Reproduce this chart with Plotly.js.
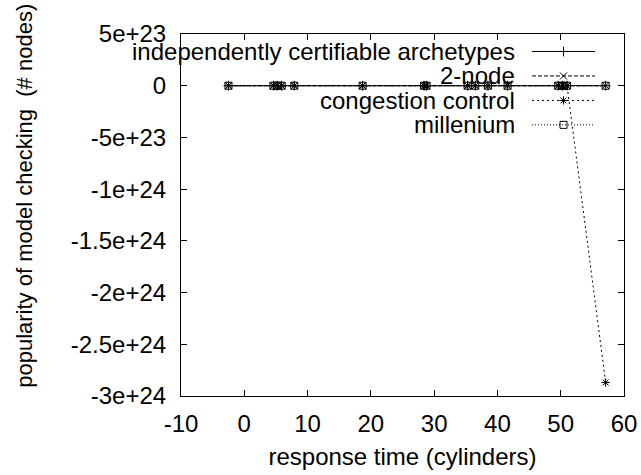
<!DOCTYPE html>
<html>
<head>
<meta charset="utf-8">
<script src="https://cdn.plot.ly/plotly-3.0.1.min.js"></script>
<style>html,body{margin:0;padding:0;background:#fff;}#chart{width:641px;height:475px;}</style>
</head>
<body>
<div id="chart"></div>
<script>
// ---- data ----
const seriesNames = ["independently certifiable archetypes", "2-node", "congestion control", "millenium"];
const xValues = [-2.5, 4.6, 5.2, 5.9, 7.9, 18.7, 28.4, 28.8, 35.3, 36.5, 38.5, 41.6, 49.6, 50.3, 51.0, 57.1];
const archetypesY = [12, 30, 33, 35, 41, 62, 70, 71, 80, 82, 85, 90, 98, 99, 100, 110];
const twoNodeY = [8, 15, 16, 17, 20, 35, 48, 49, 57, 58, 60, 64, 72, 73, 74, 81];
const congestionY = [3, 9, 10, 11, 13, 27, 39, 40, 48, 50, 52, 55, 64, 65, 66, -2.87e24];
const milleniumY = [5, 12, 13, 14, 16, 30, 42, 43, 51, 52, 55, 58, 67, 68, 69, 76];
const xTickVals = [-10, 0, 10, 20, 30, 40, 50, 60];
const xTickText = ["-10", "0", "10", "20", "30", "40", "50", "60"];
const yTickVals = [5e23, 0, -5e23, -1e24, -1.5e24, -2e24, -2.5e24, -3e24];
const yTickText = ["5e+23", "0", "-5e+23", "-1e+24", "-1.5e+24", "-2e+24", "-2.5e+24", "-3e+24"];
const xTitle = "response time (cylinders)";
const yTitle = "popularity of model checking  (# nodes)";

// ---- styles ----
const FONT = "Liberation Sans, Arial, Helvetica, sans-serif";
const FS = 24;
const styles = [
  {symbol: "cross-thin-open", dash: "solid"},
  {symbol: "x-thin-open", dash: "4px,2px"},
  {symbol: "asterisk-open", dash: "2px,3px"},
  {symbol: "square-open", dash: "1px,2px"}
];
const ys = [archetypesY, twoNodeY, congestionY, milleniumY];

const traces = ys.map((y, i) => ({
  x: xValues, y: y, type: "scatter", mode: "lines+markers",
  name: seriesNames[i], showlegend: false,
  line: {color: "#000", width: 1, dash: styles[i].dash},
  marker: {symbol: styles[i].symbol, size: 7, color: "#000", line: {color: "#000", width: 1}},
  cliponaxis: true
}));

// legend (gnuplot style: text right-aligned, sample to the right)
const L = 181, R = 624, T = 34, B = 396.5;
const px2x = p => (p - L) / (R - L);
const py2y = p => (B - p) / (B - T);
const rowsPx = [51.5, 76, 100.5, 125];
const annotations = [];
const shapes = [];
rowsPx.forEach((ry, i) => {
  annotations.push({xref: "paper", yref: "paper", x: px2x(517), y: py2y(ry), xanchor: "right", yanchor: "middle",
    text: seriesNames[i], showarrow: false, font: {family: FONT, size: FS, color: "#000"}});
  shapes.push({type: "line", xref: "paper", yref: "paper", x0: px2x(532), x1: px2x(595), y0: py2y(ry), y1: py2y(ry),
    line: {color: "#000", width: 1, dash: styles[i].dash}});
  traces.push({x: [px2x(563.5)], y: [py2y(ry)], xaxis: "x2", yaxis: "y2", type: "scatter", mode: "markers",
    showlegend: false, hoverinfo: "skip", cliponaxis: false,
    marker: {symbol: styles[i].symbol, size: 7, color: "#000", line: {color: "#000", width: 1}}});
});
// y-axis title, placed as in the reference
annotations.push({xref: "paper", yref: "paper", x: px2x(25), y: py2y(196), xanchor: "center", yanchor: "middle",
  textangle: -90, text: yTitle, showarrow: false, font: {family: FONT, size: 22, color: "#000"}});

const layout = {
  width: 641, height: 475,
  margin: {l: L, r: 641 - R, t: T, b: 475 - B, pad: 0},
  paper_bgcolor: "#fff", plot_bgcolor: "#fff",
  showlegend: false,
  font: {family: FONT, size: FS, color: "#000"},
  xaxis: {
    range: [-10, 60], tickvals: xTickVals, ticktext: xTickText, ticks: "inside", ticklen: 6, tickcolor: "#000",
    showline: true, linecolor: "#000", linewidth: 1, mirror: "ticks", showgrid: false, zeroline: false,
    tickfont: {family: FONT, size: FS}, ticklabelstandoff: 6,
    title: {text: xTitle, font: {family: FONT, size: FS}, standoff: 12}
  },
  yaxis: {
    range: [-3e24, 5e23], tickvals: yTickVals, ticktext: yTickText, ticks: "inside", ticklen: 6, tickcolor: "#000",
    showline: true, linecolor: "#000", linewidth: 1, mirror: "ticks", showgrid: false, zeroline: false,
    tickfont: {family: FONT, size: FS}, ticklabelstandoff: 9
  },
  xaxis2: {overlaying: "x", range: [0, 1], visible: false, fixedrange: true},
  yaxis2: {overlaying: "y", range: [0, 1], visible: false, fixedrange: true},
  annotations: annotations,
  shapes: shapes
};

Plotly.newPlot("chart", traces, layout, {displayModeBar: false, staticPlot: true});
</script>
</body>
</html>
